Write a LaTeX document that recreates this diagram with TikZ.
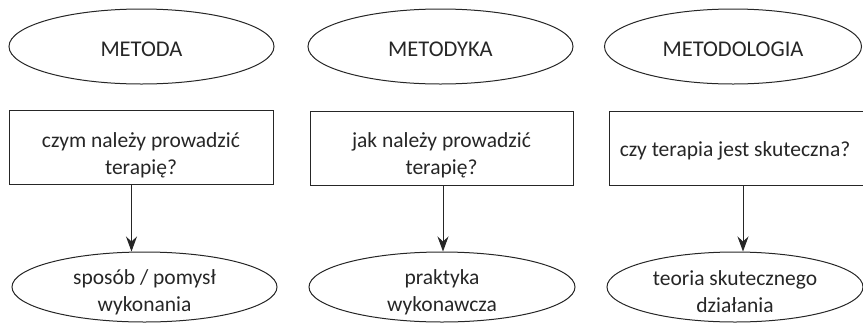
\documentclass[tikz,border=0pt]{standalone}
\usepackage{fontspec}
\setmainfont{Carlito}
\usetikzlibrary{shapes.geometric,arrows.meta}
\begin{document}
\begin{tikzpicture}[x=1pt,y=-1pt,
  oval/.style={draw=black!85,line width=1pt,ellipse,inner sep=0pt,minimum height=75pt},
  qbox/.style={draw=black!85,line width=1pt,rectangle,inner sep=0pt,minimum height=74pt},
  txt/.style={font=\fontsize{21.5}{27}\selectfont,align=center,text=black!85,inner sep=0pt},
  title/.style={txt,font=\fontsize{22.5}{27}\selectfont},
  conn/.style={draw=black!85,line width=1pt,-{Stealth[length=15pt,width=11pt,inset=5pt]}}]
\useasboundingbox (0,0) rectangle (863,322);
\clip (0,0) rectangle (863,322);
% top ellipses
\node[oval,minimum width=265pt] (e1) at (141.5,46.5) {};
\node[oval,minimum width=265pt] (e2) at (440.5,46.5) {};
\node[oval,minimum width=257pt] (e3) at (733,46.5) {};
\node[title] (t1) at (141.5,49) {METODA};
\node[title] (t2) at (440.5,49) {METODYKA};
\node[title] (t3) at (733,49) {METODOLOGIA};
% boxes
\node[qbox,minimum width=264pt] (b1) at (141,147.5) {};
\node[qbox,minimum width=263pt] (b2) at (441.5,148) {};
\node[qbox,minimum width=262pt] (b3) at (740,148) {};
\node[txt] (q1) at (141,155) {czym należy prowadzić\\terapię?};
\node[txt] (q2) at (441.5,155) {jak należy prowadzić\\terapię?};
\node[txt] (q3) at (735,151) {czy terapia jest skuteczna?};
% bottom ellipses
\node[oval,minimum width=265pt,minimum height=70pt] (o1) at (144.5,287) {};
\node[oval,minimum width=266pt,minimum height=70pt] (o2) at (442,287) {};
\node[oval,minimum width=256pt,minimum height=70pt] (o3) at (735,287) {};
\node[txt] (r1) at (144.5,292) {sposób / pomysł\\wykonania};
\node[txt] (r2) at (442,292) {praktyka\\wykonawcza};
\node[txt] (r3) at (735,292) {teoria skutecznego\\działania};
% arrows
\coordinate (a1) at (131.5,184.5);
\coordinate (a2) at (443,185);
\coordinate (a3) at (743,185);
\draw[conn] (a1) -- (a1 |- o1.north);
\draw[conn] (a2) -- (a2 |- o2.north);
\draw[conn] (a3) -- (a3 |- o3.north);
\end{tikzpicture}
\end{document}
